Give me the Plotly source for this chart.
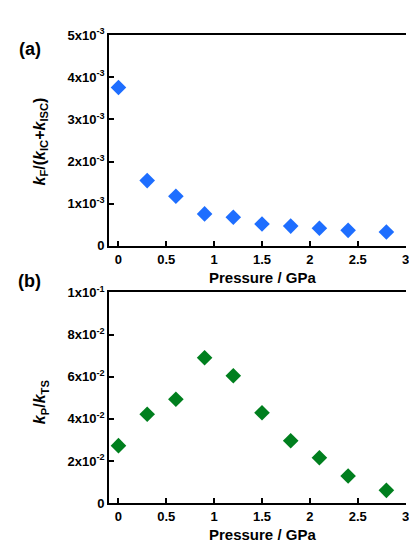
import plotly.graph_objects as go

# Data
pressure = [0, 0.3, 0.6, 0.9, 1.2, 1.5, 1.8, 2.1, 2.4, 2.8]
kf_ratio = [3.76e-3, 1.55e-3, 1.18e-3, 0.76e-3, 0.68e-3, 0.52e-3, 0.47e-3, 0.42e-3, 0.37e-3, 0.33e-3]
kp_ratio = [0.0273, 0.0422, 0.0493, 0.0690, 0.0605, 0.0429, 0.0296, 0.0216, 0.0129, 0.0061]

x_ticks = [0, 0.5, 1, 1.5, 2, 2.5, 3]
x_ticklabels = ["0", "0.5", "1", "1.5", "2", "2.5", "3"]
ya_ticks = [0, 1e-3, 2e-3, 3e-3, 4e-3, 5e-3]
ya_ticklabels = ["0", "1x10<sup>-3</sup>", "2x10<sup>-3</sup>", "3x10<sup>-3</sup>", "4x10<sup>-3</sup>", "5x10<sup>-3</sup>"]
yb_ticks = [0, 0.02, 0.04, 0.06, 0.08, 0.1]
yb_ticklabels = ["0", "2x10<sup>-2</sup>", "4x10<sup>-2</sup>", "6x10<sup>-2</sup>", "8x10<sup>-2</sup>", "1x10<sup>-1</sup>"]

W, H = 409, 549
FONT = "Liberation Sans, Arial, sans-serif"

fig = go.Figure()
fig.add_trace(go.Scatter(x=pressure, y=kf_ratio, mode="markers", xaxis="x", yaxis="y",
                         marker=dict(symbol="diamond", size=12, color="#1E6EFF"), showlegend=False))
fig.add_trace(go.Scatter(x=pressure, y=kp_ratio, mode="markers", xaxis="x2", yaxis="y2",
                         marker=dict(symbol="diamond", size=12, color="#007F1E"), showlegend=False))

xr = [-0.097, 3.005]
common_x = dict(range=xr, tickvals=x_ticks, ticktext=x_ticklabels, showline=True, linewidth=2,
                linecolor="black", mirror=True, ticks="inside", ticklen=5, tickwidth=1.5,
                tickcolor="black", showgrid=False, zeroline=False, ticklabeloverflow="allow",
                tickfont=dict(family=FONT, size=13, color="black", weight="bold"),
                domain=[110 / W, 1.0])
common_y = dict(showline=True, linewidth=2, linecolor="black", mirror=False, ticks="inside",
                ticklen=5, tickwidth=1.5, tickcolor="black", showgrid=False, zeroline=False,
                ticklabeloverflow="allow",
                tickfont=dict(family=FONT, size=13, color="black", weight="bold"))

fig.update_layout(
    width=W, height=H, margin=dict(l=0, r=0, t=0, b=0),
    paper_bgcolor="white", plot_bgcolor="white",
    xaxis=dict(**common_x, anchor="y"),
    yaxis=dict(**common_y, range=[0, 5e-3], tickvals=ya_ticks, ticktext=ya_ticklabels,
               domain=[1 - 244.5 / H, 1 - 27 / H], anchor="x"),
    xaxis2=dict(**common_x, anchor="y2"),
    yaxis2=dict(**common_y, range=[0, 0.1], tickvals=yb_ticks, ticktext=yb_ticklabels,
                domain=[1 - 510 / H, 1 - 292.5 / H], anchor="x2"),
)

def ann(text, px, py, size, angle=0):
    fig.add_annotation(text=text, x=px / W, y=1 - py / H, xref="paper", yref="paper",
                       showarrow=False, xanchor="center", yanchor="middle", textangle=angle,
                       font=dict(family=FONT, size=size, color="black", weight="bold"))

ann("(a)", 30, 41, 18)
ann("(b)", 30, 281, 18)
ann("Pressure / GPa", 264, 277, 15)
ann("Pressure / GPa", 264, 542, 15)
ann("<i>k</i><sub>F</sub>/(<i>k</i><sub>IC</sub>+<i>k</i><sub>ISC</sub>)", 41, 137, 16, -90)
ann("<i>k</i><sub>P</sub>/<i>k</i><sub>TS</sub>", 41, 405, 16, -90)

fig.write_html("out.html")
